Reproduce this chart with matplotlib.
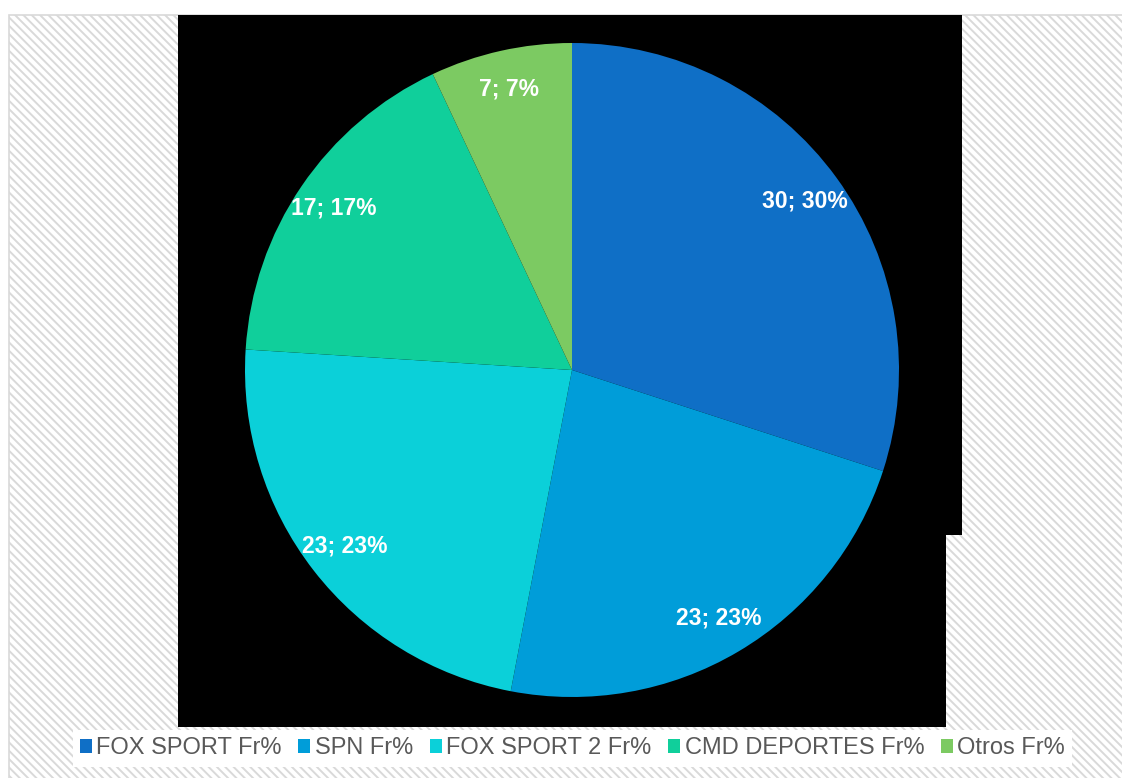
import matplotlib
matplotlib.use("Agg")
import matplotlib.pyplot as plt
from matplotlib.patches import Rectangle, Polygon, Patch

plt.rcParams['font.family'] = ['Liberation Sans', 'DejaVu Sans']
plt.rcParams['hatch.linewidth'] = 1.4
plt.rcParams['hatch.color'] = '#f5f5f5'

labels = ['FOX SPORT Fr%', 'SPN Fr%', 'FOX SPORT 2 Fr%', 'CMD DEPORTES Fr%', 'Otros Fr%']
values = [30, 23, 23, 17, 7]
colors = ['#0F6FC6', '#009DD9', '#0BD0D9', '#10CF9B', '#7CCA62']

W, H = 1122, 778
fig = plt.figure(figsize=(W / 100, H / 100), dpi=100)
fig.patch.set_facecolor('white')


def fx(x):
    return x / W


def fy(y):
    return 1 - y / H


# hatched chart area with a thin grey border
frame = Rectangle((fx(9), fy(790)), fx(1130 - 9), (790 - 15) / H,
                  transform=fig.transFigure, facecolor='white', zorder=-3,
                  edgecolor='#d9d9d9', linewidth=1.2, hatch='\\\\\\\\')
fig.add_artist(frame)

# black plot area behind the pie
pts = [(178, 15), (962, 15), (962, 535), (946, 535), (946, 727), (178, 727)]
plot_bg = Polygon([(fx(x), fy(y)) for x, y in pts], closed=True, zorder=-2,
                  transform=fig.transFigure, facecolor='black', edgecolor='none')
fig.add_artist(plot_bg)

# pie axes centred on the plot area
cx, cy, R = 572, 370, 327
half = 340
ax = fig.add_axes([fx(cx - half), fy(cy + half), 2 * half / W, 2 * half / H])
ax.patch.set_visible(False)

total = sum(values)
wedges, texts = ax.pie(values, colors=colors, startangle=90, counterclock=False,
                       radius=1, labels=[f'{v}; {round(v * 100 / total)}%' for v in values],
                       labeldistance=0.88, wedgeprops=dict(linewidth=0),
                       textprops=dict(color='white', fontsize=16.5, fontweight='bold'))
for t in texts:
    t.set_ha('center')
    t.set_va('center')
# pie() resets the limits, so set them afterwards
ax.set_xlim(-half / R, half / R)
ax.set_ylim(-half / R, half / R)
ax.axis('off')

handles = [Patch(facecolor=c, edgecolor='none') for c in colors]
leg = fig.legend(handles, labels, loc='center', bbox_to_anchor=(fx(572.5), fy(748.5)),
                 ncol=5, frameon=True, fancybox=False, facecolor='white', edgecolor='none',
                 framealpha=1, fontsize=17, handlelength=0.5, handleheight=0.5,
                 handletextpad=0.2, columnspacing=0.7, borderpad=0.3)
for t in leg.get_texts():
    t.set_color('#595959')

fig.savefig('out.png', dpi=100)
